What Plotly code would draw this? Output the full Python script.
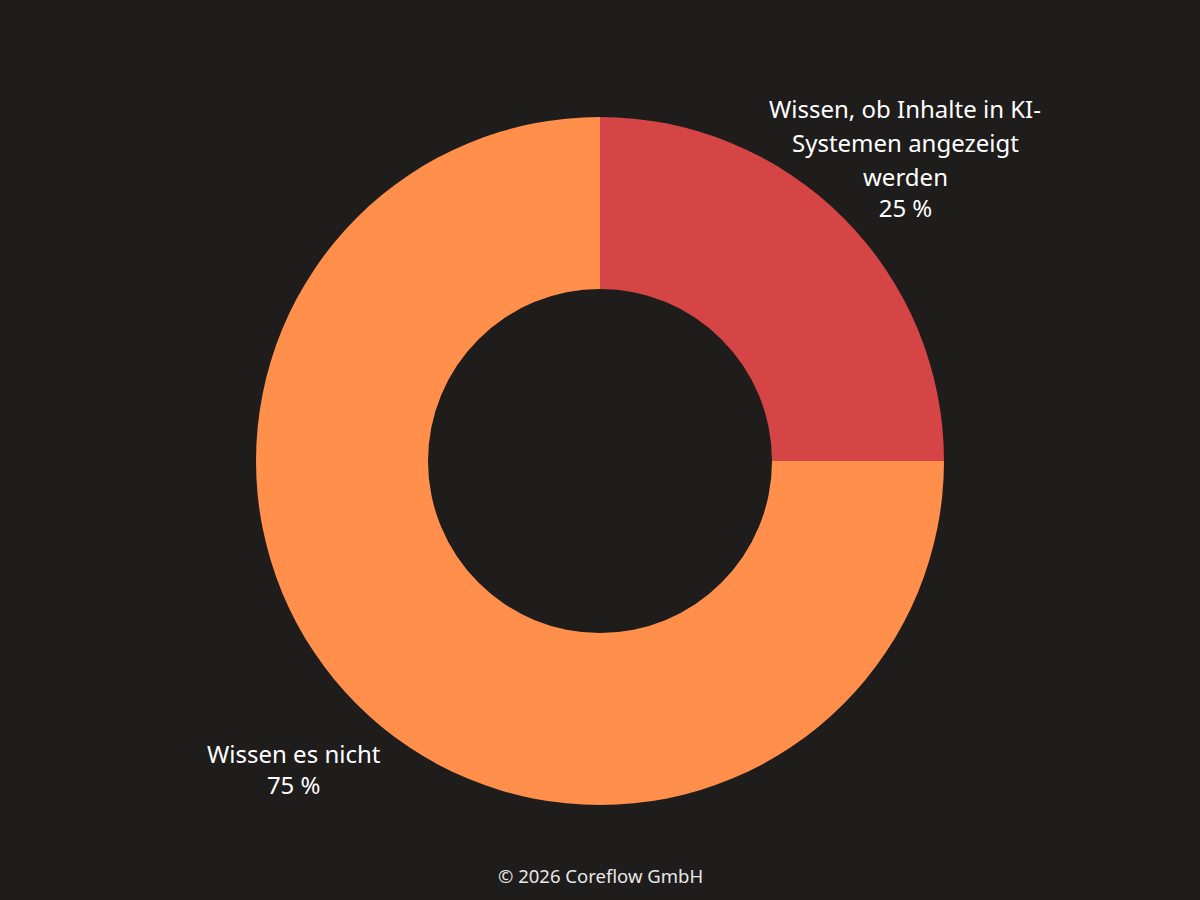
import plotly.graph_objects as go

# Data
categories = ["Wissen, ob Inhalte in KI-Systemen angezeigt werden", "Wissen es nicht"]
label_lines = [["Wissen, ob Inhalte in KI-", "Systemen angezeigt", "werden"], ["Wissen es nicht"]]
values = [25, 75]
colors = ["#D64545", "#FF8F4B"]
footer = "© 2026 Coreflow GmbH"

W, H = 1200, 900
BG = "#1F1C1C"

fig = go.Figure(go.Pie(
    labels=categories,
    values=values,
    hole=0.5,
    sort=False,
    direction="clockwise",
    rotation=0,
    marker=dict(colors=colors, line=dict(width=0)),
    textinfo="none",
    hoverinfo="label+percent",
    showlegend=False,
    domain=dict(x=[0, 1], y=[1 - 805 / H, 1 - 117 / H]),
))

# label positions (pixel centers of first line), layout only
label_pos = [(905, 108), (294, 755)]
line_gap = 35
value_gap = 28
FS = 24
annotations = []
total = sum(values)
for lines, v, (px, py) in zip(label_lines, values, label_pos):
    y = py
    for ln in lines[:-1]:
        annotations.append(dict(x=px / W, y=1 - y / H, xref="paper", yref="paper",
                                text=ln, showarrow=False, xanchor="center", yanchor="middle",
                                font=dict(size=FS, color="#FFFFFF", family="Noto Sans")))
        y += line_gap
    # last label line together with the percentage
    yc = y + value_gap / 2
    annotations.append(dict(x=px / W, y=1 - yc / H, xref="paper", yref="paper",
                            text=f"{lines[-1]}<br>{round(v / total * 100)} %", showarrow=False,
                            xanchor="center", yanchor="middle", align="center",
                            font=dict(size=FS, color="#FFFFFF", family="Noto Sans")))

annotations.append(dict(x=0.5, y=1 - 875 / H, xref="paper", yref="paper", text=footer,
                        showarrow=False, xanchor="center", yanchor="middle",
                        font=dict(size=18.5, color="#E8E8E8", family="Noto Sans")))

fig.update_layout(
    width=W, height=H,
    paper_bgcolor=BG, plot_bgcolor=BG,
    margin=dict(l=0, r=0, t=0, b=0),
    annotations=annotations,
    font=dict(family="Noto Sans", color="#FFFFFF"),
)

fig.write_html("out.html", config={"displayModeBar": False},
               post_script="document.body.style.margin='0';document.body.style.background='%s';" % BG)
